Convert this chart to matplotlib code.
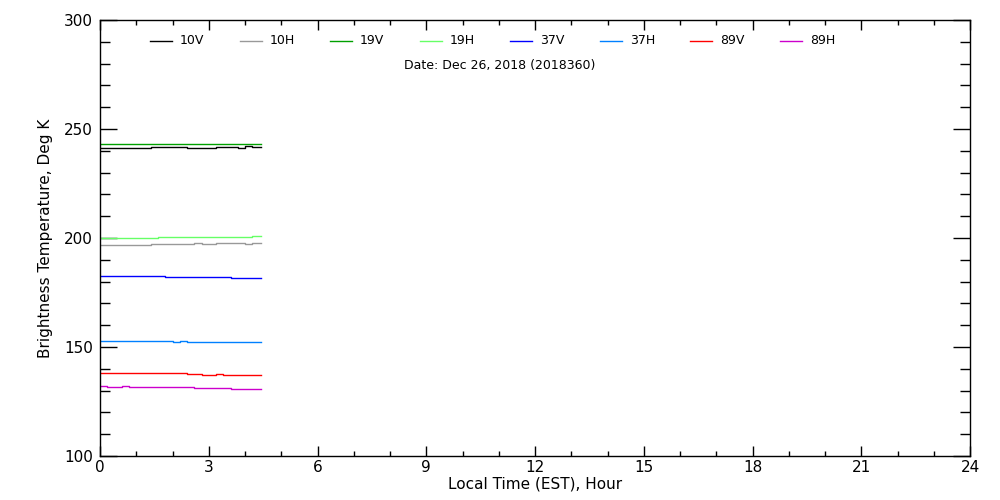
import matplotlib
matplotlib.use("Agg")
import matplotlib.pyplot as plt
from matplotlib.lines import Line2D
from matplotlib.ticker import MultipleLocator

# ---- data (hours, Kelvin) ----
hours = [0.0, 0.2, 0.4, 0.6, 0.8, 1.0, 1.2, 1.4, 1.6, 1.8, 2.0, 2.2,
         2.4, 2.6, 2.8, 3.0, 3.2, 3.4, 3.6, 3.8, 4.0, 4.2, 4.43]

tb_10v = [241.1, 241.2, 241.5, 241.3, 241.5, 241.2, 241.4, 241.6, 241.6, 241.6, 241.6, 241.6,
          241.5, 241.2, 241.4, 241.3, 241.6, 241.6, 241.6, 241.5, 242.1, 241.6, 241.6]
tb_10h = [196.9, 196.6, 196.7, 196.9, 196.8, 196.8, 197.0, 197.1, 197.1, 197.2, 197.2, 197.2,
          197.3, 197.5, 197.2, 197.4, 197.5, 197.6, 197.6, 197.7, 197.4, 197.6, 197.9]
tb_19v = [243.1, 243.1, 243.1, 243.1, 243.1, 243.1, 243.1, 243.1, 243.1, 243.1, 243.1, 243.1,
          243.1, 243.1, 243.1, 243.1, 243.1, 243.1, 243.1, 243.1, 243.1, 243.1, 243.1]
tb_19h = [199.9, 199.9, 199.9, 199.9, 199.9, 199.9, 199.9, 199.9, 200.5, 200.5, 200.5, 200.5,
          200.5, 200.5, 200.5, 200.5, 200.5, 200.5, 200.5, 200.5, 200.5, 200.9, 200.9]
tb_37v = [182.6, 182.6, 182.6, 182.6, 182.6, 182.6, 182.6, 182.6, 182.6, 182.1, 182.1, 182.1,
          182.1, 182.1, 182.1, 182.1, 182.1, 182.1, 181.5, 181.5, 181.5, 181.5, 181.5]
tb_37h = [152.6, 152.6, 152.6, 152.6, 152.6, 152.6, 152.6, 152.6, 152.6, 152.6, 152.2, 152.6,
          152.2, 152.4, 152.2, 152.2, 152.2, 152.2, 152.2, 152.2, 152.2, 152.2, 152.2]
tb_89v = [137.9, 137.9, 137.9, 137.9, 137.9, 137.9, 137.9, 137.9, 137.9, 137.9, 137.9, 137.9,
          137.5, 137.5, 137.3, 137.2, 137.5, 137.0, 137.0, 137.0, 137.0, 137.0, 137.0]
tb_89h = [131.9, 131.5, 131.5, 131.9, 131.5, 131.5, 131.5, 131.5, 131.5, 131.5, 131.5, 131.5,
          131.5, 131.3, 131.0, 131.0, 131.0, 131.0, 130.6, 130.6, 130.6, 130.6, 130.6]

channels = ["10V", "10H", "19V", "19H", "37V", "37H", "89V", "89H"]
colors = ["#000000", "#999999", "#00a000", "#66ff66", "#0000ff", "#0080ff", "#ff0000", "#cc00cc"]
series = [tb_10v, tb_10h, tb_19v, tb_19h, tb_37v, tb_37h, tb_89v, tb_89h]
date_text = "Date: Dec 26, 2018 (2018360)"

plt.rcParams['font.family'] = ['DejaVu Sans']

fig = plt.figure(figsize=(10, 5), dpi=100)
ax = fig.add_axes([0.100, 0.088, 0.870, 0.872])

for vals, col in zip(series, colors):
    ax.plot(hours, vals, color=col, lw=1.0, drawstyle='steps-post')

ax.set_xlim(0, 24)
ax.set_ylim(100, 300)
ax.xaxis.set_major_locator(MultipleLocator(3))
ax.xaxis.set_minor_locator(MultipleLocator(1))
ax.yaxis.set_major_locator(MultipleLocator(50))
ax.yaxis.set_minor_locator(MultipleLocator(10))
px = 0.72
ax.tick_params(axis='x', which='major', direction='in', length=10 * px, width=1, top=True,
               labelsize=11, pad=3)
ax.tick_params(axis='x', which='minor', direction='in', length=5 * px, width=1, top=True)
ax.tick_params(axis='y', which='major', direction='in', length=17 * px, width=1, right=True,
               labelsize=11, pad=5)
ax.tick_params(axis='y', which='minor', direction='in', length=10 * px, width=1, right=True)
for s in ax.spines.values():
    s.set_linewidth(1)

ax.set_xlabel("Local Time (EST), Hour", fontsize=11, labelpad=1)
ax.set_ylabel("Brightness Temperature, Deg K", fontsize=11, labelpad=8)

# legend row drawn in figure pixel space
x0, dx = 150, 90
for i, (name, col) in enumerate(zip(channels, colors)):
    xl = x0 + i * dx
    fig.add_artist(Line2D([xl / 1000, (xl + 22) / 1000], [1 - 41 / 500] * 2,
                          color=col, lw=1.0, transform=fig.transFigure))
    fig.text((xl + 30) / 1000, 1 - 41 / 500, name, fontsize=9, va='center', ha='left')
fig.text(0.5, 1 - 65 / 500, date_text, fontsize=9, ha='center', va='center')

fig.savefig("out.png", dpi=100, facecolor='white')
